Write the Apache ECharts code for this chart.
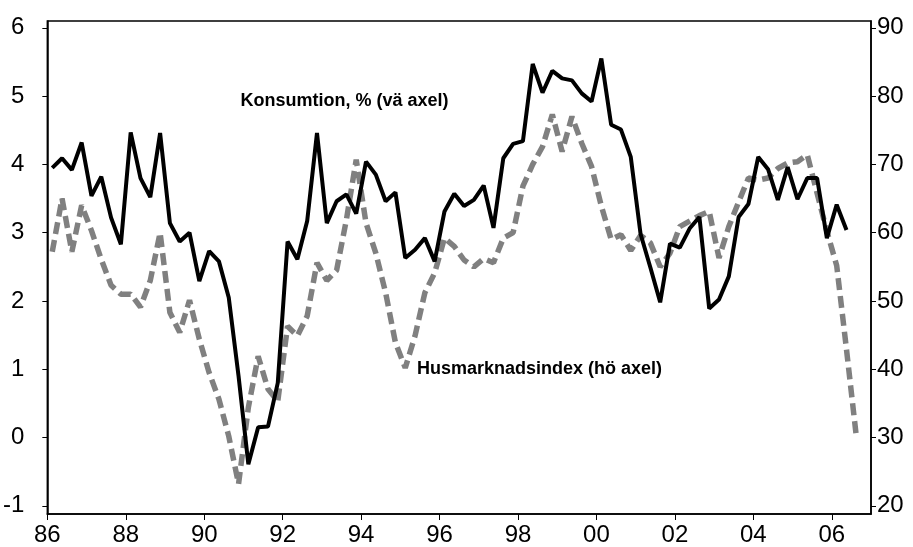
<!DOCTYPE html>
<html>
<head>
<meta charset="utf-8">
<script src="https://cdn.jsdelivr.net/npm/echarts@6/dist/echarts.min.js"></script>
<style>html,body{margin:0;padding:0;background:#fff}#c{width:913px;height:547px}</style>
</head>
<body>
<div id="c"></div>
<script>
// Quarterly data, 1986 Q1 onwards
const firstYear = 1986;
const lastYear = 2006;
const quarters = [];
for (let y = firstYear; y <= lastYear; y++) for (let q = 1; q <= 4; q++) quarters.push(y + 'K' + q);

// Konsumtion, % (left axis)
const konsumtion = [
  3.95, 4.09, 3.92, 4.32, 3.54, 3.82, 3.22, 2.83, 4.47, 3.80,
  3.52, 4.46, 3.14, 2.87, 3.00, 2.29, 2.73, 2.58, 2.05, 0.90,
  -0.39, 0.15, 0.16, 0.80, 2.87, 2.61, 3.17, 4.46, 3.14, 3.46,
  3.56, 3.28, 4.04, 3.85, 3.46, 3.59, 2.63, 2.75, 2.92, 2.58,
  3.31, 3.57, 3.39, 3.48, 3.69, 3.07, 4.09, 4.30, 4.34, 5.47,
  5.05, 5.37, 5.26, 5.23, 5.04, 4.92, 5.55, 4.58, 4.51, 4.11,
  2.98, 2.49, 1.98, 2.84, 2.78, 3.06, 3.23, 1.89, 2.02, 2.36,
  3.23, 3.42, 4.11, 3.93, 3.48, 3.96, 3.49, 3.80, 3.80, 2.92,
  3.41, 3.04
];

// Husmarknadsindex (right axis)
const husmarknad = [
  57.2, 65.0, 57.2, 64.0, 60.3, 56.1, 52.3, 51.0, 51.0, 49.1,
  53.0, 60.0, 48.3, 45.4, 50.1, 44.4, 39.5, 35.6, 30.2, 23.2,
  34.4, 41.9, 37.1, 35.3, 46.3, 44.9, 47.8, 55.6, 53.0, 54.5,
  61.9, 70.7, 61.4, 57.0, 51.2, 43.9, 40.2, 44.9, 51.2, 54.1,
  59.2, 58.0, 56.0, 55.0, 56.2, 55.6, 59.2, 60.0, 66.8, 70.0,
  72.6, 77.3, 71.9, 77.0, 73.1, 69.7, 63.9, 59.0, 59.7, 57.4,
  59.6, 58.5, 55.0, 57.0, 60.9, 61.7, 62.5, 63.1, 56.3, 60.9,
  64.5, 68.0, 67.7, 68.0, 69.4, 70.2, 70.4, 71.4, 65.8, 60.2,
  55.2, 42.9, 30.2
];

const xTicks = [1986, 1988, 1990, 1992, 1994, 1996, 1998, 2000, 2002, 2004, 2006];
const leftTicks = [-1, 0, 1, 2, 3, 4, 5, 6];
const rightTicks = [20, 30, 40, 50, 60, 70, 80, 90];

function quarterPos(label) {
  const y = parseInt(label.slice(0, 4), 10);
  const q = parseInt(label.slice(5), 10);
  return y + (q - 0.5) / 4;
}
const kData = konsumtion.map((v, i) => [quarterPos(quarters[i]), v]);
const hData = husmarknad.map((v, i) => [quarterPos(quarters[i]), v]);

const font = 'Liberation Sans, Arial, sans-serif';
const chart = echarts.init(document.getElementById('c'), null, {renderer: 'canvas'});
chart.setOption({
  animation: false,
  backgroundColor: '#fff',
  grid: {left: 43.5, right: 42, top: 21, bottom: 32, show: true, borderColor: '#000', borderWidth: 1.5, containLabel: false},
  xAxis: {
    type: 'value', min: 1986, max: 2007,
    axisLine: {show: true, onZero: false, lineStyle: {color: '#000', width: 1.5}},
    axisTick: {show: true, length: 6, inside: false, customValues: xTicks, lineStyle: {color: '#000'}},
    axisLabel: {customValues: xTicks, margin: 9, fontFamily: font, fontSize: 24, color: '#000',
      formatter: v => String(v % 100).padStart(2, '0')},
    splitLine: {show: false}
  },
  yAxis: [
    {
      type: 'value', min: -1.12, max: 6.1, position: 'left',
      axisLine: {show: true, onZero: false, lineStyle: {color: '#000', width: 1.5}},
      axisTick: {show: true, length: 5, customValues: leftTicks, lineStyle: {color: '#000'}},
      axisLabel: {customValues: leftTicks, margin: 23, fontFamily: font, fontSize: 24, color: '#000'},
      splitLine: {show: false}
    },
    {
      type: 'value', min: 18.8, max: 91.0, position: 'right',
      axisLine: {show: true, onZero: false, lineStyle: {color: '#000', width: 1.5}},
      axisTick: {show: true, length: 5, customValues: rightTicks, lineStyle: {color: '#000'}},
      axisLabel: {customValues: rightTicks, margin: 6, fontFamily: font, fontSize: 24, color: '#000'},
      splitLine: {show: false}
    }
  ],
  series: [
    {
      name: 'Husmarknadsindex (hö axel)', type: 'line', yAxisIndex: 1, data: hData,
      showSymbol: false, symbol: 'none',
      lineStyle: {color: '#808080', width: 5.5, type: [12, 6]}
    },
    {
      name: 'Konsumtion, % (vä axel)', type: 'line', yAxisIndex: 0, data: kData,
      showSymbol: false, symbol: 'none',
      lineStyle: {color: '#000', width: 4}
    }
  ],
  graphic: [
    {type: 'text', x: 240.5, y: 101, style: {text: 'Konsumtion, % (vä axel)', font: 'bold 18px ' + font, fill: '#000', textAlign: 'left', textVerticalAlign: 'middle'}},
    {type: 'text', x: 417, y: 369, style: {text: 'Husmarknadsindex (hö axel)', font: 'bold 18px ' + font, fill: '#000', textAlign: 'left', textVerticalAlign: 'middle'}}
  ]
});
</script>
</body>
</html>
